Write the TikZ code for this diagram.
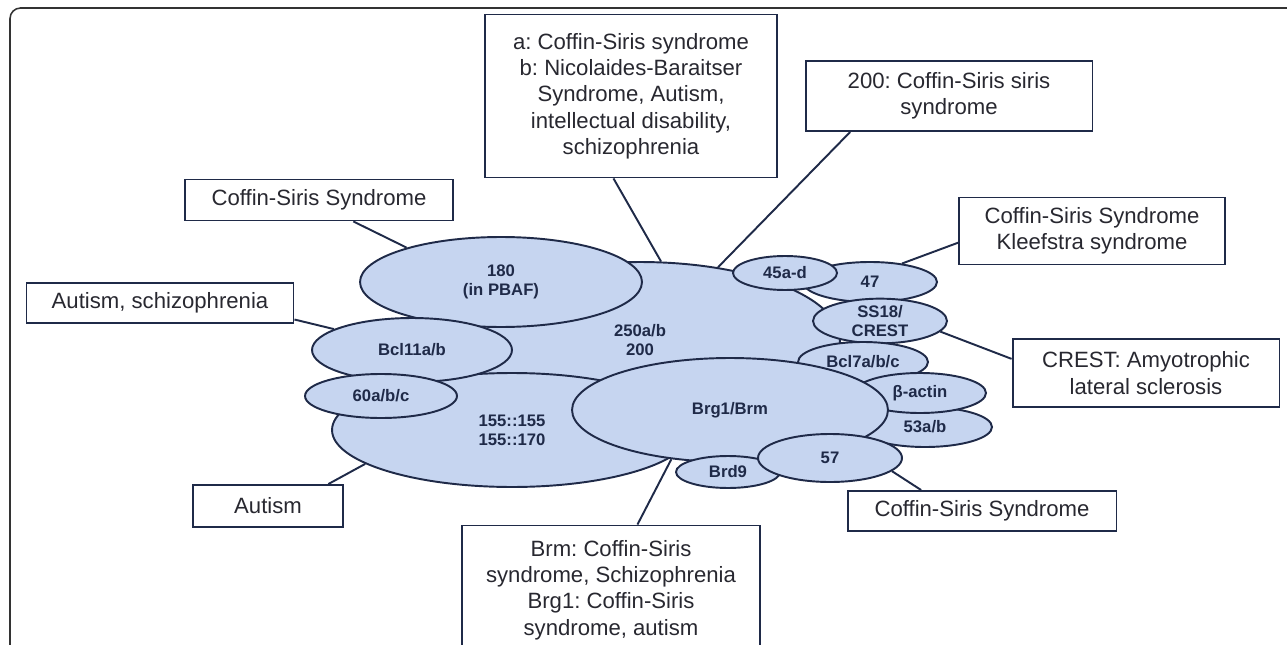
\documentclass[tikz,border=0pt]{standalone}
\usepackage{fontspec}
\setmainfont{Liberation Sans}
\usetikzlibrary{shapes.geometric}
\frenchspacing

\definecolor{navy}{RGB}{31,42,72}
\definecolor{pale}{RGB}{198,213,240}
\definecolor{txt}{RGB}{40,40,48}

\begin{document}
\begin{tikzpicture}[x=0.02cm, y=-0.02cm,
    sub/.style={ellipse, draw=navy, line width=1.1pt, fill=pale, inner sep=0pt,
      align=center, text=navy, font=\fontsize{9.5}{11}\selectfont\bfseries},
    disease/.style={rectangle, draw=navy, line width=1.1pt, fill=white, inner sep=2pt,
      align=center, text=txt, font=\fontsize{12.6}{15}\selectfont},
    link/.style={draw=navy, line width=1.1pt}]
  \useasboundingbox (0,0) rectangle (1287,645);
  \clip (0,0) rectangle (1287,645);
  % outer frame
  \draw[line width=0.9pt, black!80, rounded corners=6pt] (10,700) -- (10,8) -- (1320,8);

  % the complex: back to front
  \node[sub, minimum width=8cm, minimum height=3.12cm] (e250) at (640,340) {250a/b\\200};
  \node[sub, minimum width=7.2cm, minimum height=2.28cm] (e155) at (512,430) {155::155\\155::170};
  \node[sub, minimum width=5.64cm, minimum height=1.8cm] (e180) at (501,282) {180\\(in PBAF)};
  \node[sub, minimum width=4cm, minimum height=1.28cm] (bcl11) at (412,350) {Bcl11a/b};
  \node[sub, minimum width=3.04cm, minimum height=0.88cm] (e60) at (381,396) {60a/b/c};
  \node[sub, minimum width=2.68cm, minimum height=0.8cm] (e47) at (870,282) {47};
  \node[sub, minimum width=2.08cm, minimum height=0.68cm] (e45) at (785,273) {45a-d};
  \node[sub, minimum width=2.68cm, minimum height=0.84cm] (ss18) at (880,321) {SS18/\\CREST};
  \node[sub, minimum width=2.6cm, minimum height=0.8cm] (bcl7) at (863,362) {Bcl7a/b/c};
  \node[sub, minimum width=2.68cm, minimum height=0.8cm] (e53) at (925,427) {53a/b};
  \node[sub, minimum width=2.64cm, minimum height=0.8cm] (actin) at (920,393) {β-actin};
  \node[sub, minimum width=6.32cm, minimum height=2.08cm] (brg) at (730,410) {Brg1/Brm};
  \node[sub, minimum width=2.08cm, minimum height=0.64cm] (brd9) at (728,472) {Brd9};
  \node[sub, minimum width=2.88cm, minimum height=0.96cm] (e57) at (830,458) {57};

  % disease boxes
  \node[disease, minimum width=5.36cm, minimum height=0.82cm] (cssA) at (319,200) {Coffin-Siris Syndrome};
  \node[disease, minimum width=5.34cm, minimum height=0.8cm] (asz) at (160,303) {Autism, schizophrenia};
  \node[disease, minimum width=3cm, minimum height=0.84cm] (aut) at (268,506) {Autism};
  \node[disease, minimum width=5.84cm, minimum height=3.26cm] (arid) at (631,96)
    {a: Coffin-Siris syndrome\\b: Nicolaides-Baraitser\\Syndrome, Autism,\\intellectual disability,\\schizophrenia};
  \node[disease, minimum width=5.74cm, minimum height=1.4cm] (b200) at (949,96) {200: Coffin-Siris siris\\syndrome};
  \node[disease, minimum width=5.32cm, minimum height=1.34cm] (klee) at (1092,231) {Coffin-Siris Syndrome\\Kleefstra syndrome};
  \node[disease, minimum width=5.34cm, minimum height=1.36cm] (crest) at (1146,373) {CREST: Amyotrophic\\lateral sclerosis};
  \node[disease, minimum width=5.38cm, minimum height=0.8cm] (cssB) at (982,511) {Coffin-Siris Syndrome};
  \node[disease, minimum width=5.96cm, minimum height=2.58cm] (brbox) at (611,590)
    {Brm: Coffin-Siris\\syndrome, Schizophrenia\\Brg1: Coffin-Siris\\syndrome, autism};

  % connectors
  \draw[link] (cssA.-32) -- (e180.160);
  \draw[link] (asz.-7) -- (bcl11.165);
  \draw[link] (aut.20) -- (e155.193);
  \draw[link] (arid.258) -- (e250.75);
  \draw[link] (b200.200) -- (e250.43);
  \draw[link] (klee.185) -- (e47.30);
  \draw[link] (crest.174) -- (ss18.-10);
  \draw[link] (cssB.161) -- (e57.-12);
  \draw[link] (brbox.68) -- (brg.-140);
\end{tikzpicture}
\end{document}
